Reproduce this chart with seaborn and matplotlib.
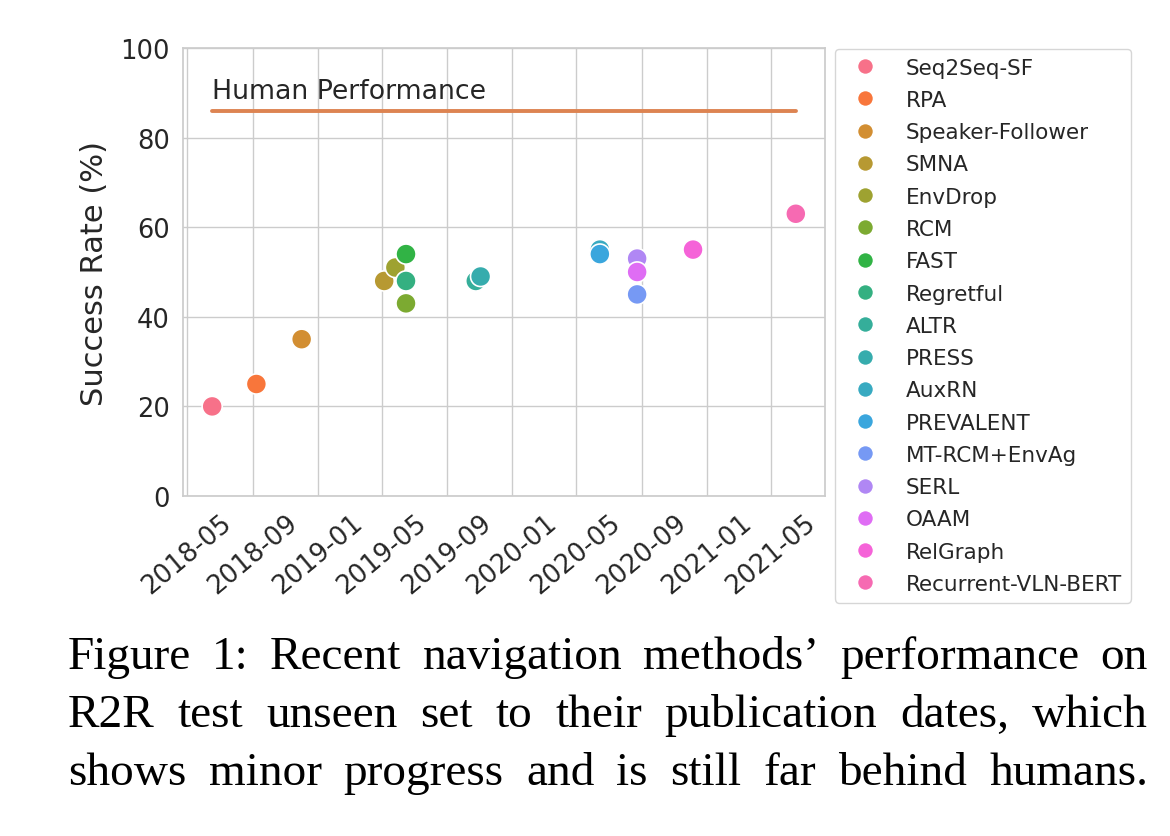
import numpy as np
import pandas as pd
import matplotlib.pyplot as plt
import matplotlib.dates as mdates
import seaborn as sns

methods = ["Seq2Seq-SF", "RPA", "Speaker-Follower", "SMNA", "EnvDrop", "RCM",
           "FAST", "Regretful", "ALTR", "PRESS", "AuxRN", "PREVALENT",
           "MT-RCM+EnvAg", "SERL", "OAAM", "RelGraph", "Recurrent-VLN-BERT"]
dates = ["2018-06-17", "2018-09-08", "2018-12-02", "2019-05-06", "2019-05-27",
         "2019-06-16", "2019-06-16", "2019-06-16", "2019-10-25", "2019-11-03",
         "2020-06-14", "2020-06-14", "2020-08-23", "2020-08-23", "2020-08-23",
         "2020-12-06", "2021-06-17"]
success = [20, 25, 35, 48, 51, 43, 54, 48, 48, 49, 55, 54, 45, 53, 50, 55, 63]
human_perf = 86

caption_lines = [
    "Figure 1: Recent navigation methods\u2019 performance on",
    "R2R test unseen set to their publication dates, which",
    "shows minor progress and is still far behind humans.",
]

df = pd.DataFrame({"method": methods, "date": pd.to_datetime(dates), "sr": success})

sns.set_theme(style="whitegrid")
plt.rcParams['font.family'] = ['DejaVu Sans']

fig = plt.figure(figsize=(11.7, 8.37), dpi=100)
ax = fig.add_axes([183/1170, 1-497/837, (825-183)/1170, (497-49)/837])

sns.scatterplot(data=df, x="date", y="sr", hue="method", s=210, ax=ax,
                edgecolor="white", linewidth=1.2, legend=True)

ax.plot([df["date"].min(), df["date"].max()], [human_perf, human_perf],
        color="#dd8452", lw=2.8)
ax.text(df["date"].min(), human_perf + 1.4, "Human Performance", fontsize=19.3,
        color="#262626", va="bottom", ha="left")

ax.set_ylim(0, 100)
ax.set_yticks([0, 20, 40, 60, 80, 100])
ax.xaxis.set_major_locator(mdates.MonthLocator(bymonth=[1, 5, 9]))
ax.xaxis.set_major_formatter(mdates.DateFormatter("%Y-%m"))
ax.tick_params(axis="both", labelsize=18.5, colors="#262626")
plt.setp(ax.get_xticklabels(), rotation=40)
ax.set_xlabel("")
ax.set_ylabel("Success Rate (%)", fontsize=22, color="#262626", labelpad=8)

ax.legend(loc="upper left", bbox_to_anchor=(835/1170, 1-50/837),
          bbox_transform=fig.transFigure, borderaxespad=0, fontsize=15.5,
          markerscale=0.8, labelspacing=0.57, handletextpad=0.9)

# caption, justified word by word
fig.canvas.draw()
renderer = fig.canvas.get_renderer()
x0, x1 = 68, 1148
baselines = [669, 727, 785]
for line, yb in zip(caption_lines, baselines):
    words = line.split()
    texts = [fig.text(0, 1 - yb/837, w, fontsize=34, family="Liberation Serif",
                      va="baseline", color="black") for w in words]
    widths = [t.get_window_extent(renderer).width for t in texts]
    gap = (x1 - x0 - sum(widths)) / (len(words) - 1)
    x = x0
    for t, w in zip(texts, widths):
        t.set_x(x / 1170)
        x += w + gap

fig.savefig("out.png", dpi=100)
